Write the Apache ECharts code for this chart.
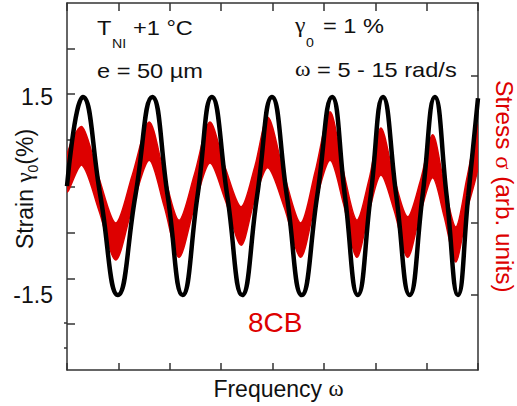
<!DOCTYPE html>
<html><head><meta charset="utf-8">
<script src="https://cdn.jsdelivr.net/npm/echarts@6/dist/echarts.min.js"></script>
<style>html,body{margin:0;padding:0;background:#fff}#c{width:517px;height:406px}</style>
</head><body><div id="c"></div>
<script>
// ---- data ----
// time runs 0..800 across the frame (8 tick intervals of 100)
const timeStrain = [0,31,65,99,133,166,196,225,254,282,312,341,370,399,428,457,487,516,541,566,591,615,641,667,692,716,739,761,781,800];
const strainValues = [0.15,1.5,0,-1.5,0,1.5,0,-1.5,0,1.5,0,-1.5,0,1.5,0,-1.5,0,1.5,0,-1.5,0,1.5,0,-1.5,0,1.5,0,-1.5,0,1.48];

// noisy stress band: upper and lower edges (arb. units)
const timeStress  = [0,29,62,95,127,160,189,218,248,278,308,339,365,391,423,455,483,512,538,564,588,611,637,663,688,712,734,757,778,800];
const stressUpper = [0.61,1.03,0.27,-0.40,0.31,1.10,0.33,-0.36,0.32,1.10,0.42,-0.16,0.42,1.17,0.31,-0.40,0.36,1.25,0.37,-0.36,0.25,1.01,0.26,-0.31,0.23,0.91,0.18,-0.46,0.25,1.06];
const stressLower = [0.06,0.46,-0.21,-0.95,-0.17,0.53,-0.15,-0.91,-0.16,0.49,-0.06,-0.73,-0.06,0.42,-0.17,-0.91,-0.12,0.53,-0.11,-0.91,-0.23,0.31,-0.22,-0.91,-0.25,0.27,-0.30,-0.98,-0.23,0.43];

const strainLabels = [-1.5, 1.5];
const strainTicks = [2.227, 1.545, 0.848, 0.136, -0.561, -1.258, -1.939];
const stressTicks = [1.782, -0.401, -1.470];
const stressMinorTicks = [-1.886, -2.257];

// ---- axis ranges ----
const STRAIN_MIN = -2.636, STRAIN_MAX = 2.924;
const STRESS_MIN = -2.584, STRESS_MAX = 2.866;

const SANS = "'Liberation Sans', Arial, sans-serif";
const SERIF = "'Liberation Serif', 'Times New Roman', serif";
const RED = '#dd0000';
const AX = '#333333';
const TXT = '#111111';

const mctx = document.createElement('canvas').getContext('2d');
function tw(t, size, fam) { mctx.font = size + 'px ' + fam; return mctx.measureText(t).width; }

// build a run of text pieces starting at local x, with given baseline; sx = horizontal scale
function run(parts, x, base, color, sx) {
  sx = sx || 1;
  const out = [];
  let cx = x;
  parts.forEach(p => {
    const fam = p.fam || SANS;
    out.push({
      type: 'text', x: cx, y: base + (p.dy || 0) - 0.35 * p.size, scaleX: sx,
      style: { text: p.t, fontSize: p.size, fontFamily: fam, fill: p.color || color || TXT,
               align: 'left', textAlign: 'left', verticalAlign: 'middle', textVerticalAlign: 'middle' }
    });
    cx += tw(p.t, p.size, fam) * sx;
  });
  return out;
}
function runWidth(parts, sx) { return (sx || 1) * parts.reduce((s, p) => s + tw(p.t, p.size, p.fam || SANS), 0); }

const strainName = [
  { t: 'Strain ', size: 23 }, { t: 'γ', size: 23, fam: SERIF },
  { t: '0', size: 14, dy: 5 }, { t: '(%)', size: 23 }
];
const stressName = [
  { t: 'Stress ', size: 23 }, { t: 'σ', size: 23, fam: SERIF }, { t: ' (arb. units)', size: 23 }
];
const freqName = [{ t: 'Frequency ', size: 23 }, { t: 'ω', size: 23, fam: SERIF }];

const AS = 1.18; // annotation horizontal scale
const graphics = [];
const add = arr => arr.forEach(e => graphics.push(e));
// annotations
add(run([{ t: 'T', size: 20 }], 97, 35, null, AS));
add(run([{ t: 'NI', size: 12 }], 112, 48, null, AS));
add(run([{ t: '+1 °C', size: 20 }], 133, 35, null, AS));
add(run([{ t: 'e = 50 µm', size: 20 }], 97, 78, null, AS));
add(run([{ t: 'γ', size: 20, fam: SERIF }], 295, 33, null, AS));
add(run([{ t: '0', size: 12 }], 306, 47, null, AS));
add(run([{ t: '= 1 %', size: 20 }], 323, 33, null, AS));
add(run([{ t: 'ω', size: 20, fam: SERIF }, { t: ' = 5 - 15 rad/s', size: 20 }], 295, 77, null, AS));
add(run([{ t: '8CB', size: 28 }], 248, 332, RED));
// x axis name
const fw = runWidth(freqName);
add(run(freqName, 278.5 - fw / 2, 397));
// rotated axis names
const sw = runWidth(strainName);
graphics.push({ type: 'group', x: 33, y: 189, rotation: Math.PI / 2, children: run(strainName, -sw / 2, 0) });
const RS = 1.06;
const rw = runWidth(stressName, RS);
graphics.push({ type: 'group', x: 496, y: 186.5, rotation: -Math.PI / 2, children: run(stressName, -rw / 2, 0, RED, RS) });

const axLine = { show: true, onZero: false, lineStyle: { color: AX, width: 1.5 } };
const tickStyle = { color: AX, width: 1.5 };

const chart = echarts.init(document.getElementById('c'), null, { renderer: 'svg' });
chart.setOption({
  animation: false,
  backgroundColor: '#ffffff',
  grid: { left: 67, top: 3, right: 39, bottom: 36, containLabel: false, outerBoundsMode: 'none' },
  xAxis: [
    { type: 'value', position: 'bottom', min: 0, max: 800, interval: 100,
      axisLine: axLine, axisTick: { show: true, inside: true, length: 7, lineStyle: tickStyle },
      axisLabel: { show: false }, splitLine: { show: false } },
    { type: 'value', position: 'top', min: 0, max: 800, interval: 100,
      axisLine: axLine, axisTick: { show: true, inside: true, length: 8, lineStyle: tickStyle },
      axisLabel: { show: false }, splitLine: { show: false } }
  ],
  yAxis: [
    { type: 'value', position: 'left', min: STRAIN_MIN, max: STRAIN_MAX,
      axisLine: axLine,
      axisTick: { show: true, inside: true, length: 8, customValues: strainTicks, lineStyle: tickStyle },
      axisLabel: { show: true, customValues: strainLabels, fontSize: 23, fontFamily: SANS, color: TXT, margin: 14,
                   formatter: v => String(v) },
      splitLine: { show: false } },
    { type: 'value', position: 'right', min: STRESS_MIN, max: STRESS_MAX,
      axisLine: axLine,
      axisTick: { show: true, inside: true, length: 7, customValues: stressTicks, lineStyle: tickStyle },
      axisLabel: { show: false }, splitLine: { show: false } },
    { type: 'value', position: 'right', min: STRESS_MIN, max: STRESS_MAX,
      axisLine: { show: false },
      axisTick: { show: true, inside: true, length: 3, customValues: stressMinorTicks, lineStyle: tickStyle },
      axisLabel: { show: false }, splitLine: { show: false } }
  ],
  series: [
    { type: 'custom', xAxisIndex: 0, yAxisIndex: 1, z: 2, silent: true,
      data: timeStress.map((t, i) => [t, stressUpper[i], stressLower[i]]),
      encode: { x: 0, y: [1, 2] },
      renderItem: function (params, api) {
        if (params.dataIndex !== 0) return null;
        const pts = [];
        for (let i = 0; i < timeStress.length; i++) pts.push(api.coord([timeStress[i], stressUpper[i]]));
        for (let i = timeStress.length - 1; i >= 0; i--) pts.push(api.coord([timeStress[i], stressLower[i]]));
        const cs = params.coordSys;
        return { type: 'polygon', shape: { points: pts, smooth: 0.3 },
                 style: { fill: RED, stroke: RED, lineWidth: 1.5 },
                 clipPath: { type: 'rect', shape: { x: cs.x, y: cs.y, width: cs.width, height: cs.height } } };
      } },
    { type: 'line', xAxisIndex: 0, yAxisIndex: 0, z: 3, silent: true,
      data: timeStrain.map((t, i) => [t, strainValues[i]]),
      smooth: 0.5, symbol: 'none', lineStyle: { color: '#000000', width: 4.5 } }
  ],
  graphic: { elements: graphics }
});
</script></body></html>
